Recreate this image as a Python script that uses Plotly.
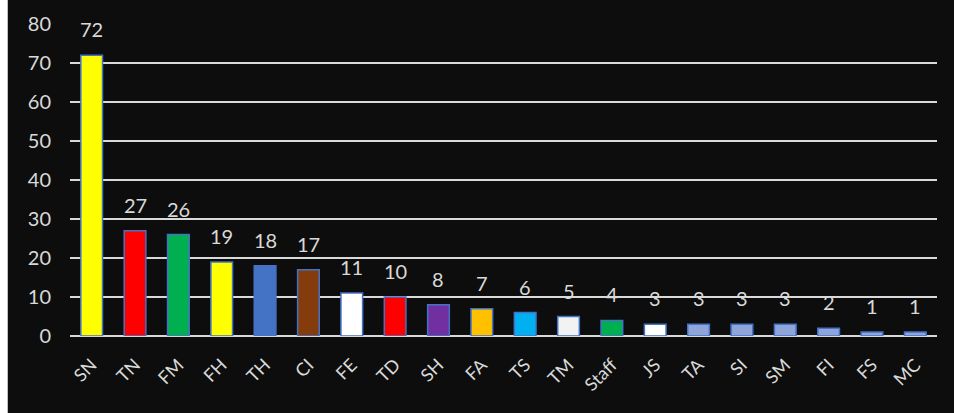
import plotly.graph_objects as go

categories = ["SN", "TN", "FM", "FH", "TH", "CI", "FE", "TD", "SH", "FA",
              "TS", "TM", "Staff", "JS", "TA", "SI", "SM", "FI", "FS", "MC"]
values = [72, 27, 26, 19, 18, 17, 11, 10, 8, 7, 6, 5, 4, 3, 3, 3, 3, 2, 1, 1]
bar_colors = ["#FFFF00", "#FF0000", "#00B050", "#FFFF00", "#4472C4", "#843C0C",
              "#FFFFFF", "#FF0000", "#7030A0", "#FFC000", "#00B0F0", "#F2F2F2",
              "#00B050", "#FFFFFF", "#8FA5DA", "#8FA5DA", "#8FA5DA", "#8FA5DA",
              "#8FA5DA", "#8FA5DA"]
y_ticks = [0, 10, 20, 30, 40, 50, 60, 70, 80]

FONT = "Lato, 'Open Sans', sans-serif"
TXT = "#D9D9D9"

fig = go.Figure()
fig.add_trace(go.Bar(
    x=categories, y=values,
    marker=dict(color=bar_colors, line=dict(color="#4472C4", width=1.5)),
    width=0.5,
    hoverinfo="x+y",
))

for c, v in zip(categories, values):
    fig.add_annotation(x=c, y=v, text=str(v), showarrow=False,
                       yanchor="bottom", yshift=12,
                       font=dict(family=FONT, size=20, color=TXT))

L, R, T, B = 70, 17, 24, 77
W, H = 954, 413
pw, ph = W - L - R, H - T - B
STRIP = 7
# white page strip along the left edge (drawn in the figure's margin)
fig.add_shape(type="rect", xref="paper", yref="paper",
              x0=-L / pw, x1=(STRIP - L) / pw, y0=-B / ph, y1=1 + T / ph,
              fillcolor="#FFFFFF", line=dict(width=0), layer="above")
fig.add_shape(type="line", xref="paper", yref="paper",
              x0=(STRIP + 0.5 - L) / pw, x1=(STRIP + 0.5 - L) / pw,
              y0=-B / ph, y1=1 + T / ph,
              line=dict(color="#BFBFBF", width=1), layer="above")

fig.update_layout(
    width=W, height=H,
    margin=dict(l=L, r=R, t=T, b=B),
    paper_bgcolor="#0D0D0D", plot_bgcolor="#0D0D0D",
    showlegend=False, bargap=0.5,
    font=dict(family=FONT, color=TXT),
    xaxis=dict(tickangle=-45, tickfont=dict(size=18, color=TXT, family=FONT),
               showgrid=False, showline=False, ticks="", fixedrange=True,
               ticklabelstandoff=14),
    yaxis=dict(range=[0, 80], tickvals=y_ticks, showgrid=True,
               gridcolor="#D9D9D9", gridwidth=1.6,
               zeroline=True, zerolinecolor="#D9D9D9", zerolinewidth=2,
               tickfont=dict(size=20, color=TXT, family=FONT),
               ticks="", ticklen=0, fixedrange=True, ticklabelstandoff=18),
)

fig.write_html("out.html", config={"displayModeBar": False},
               post_script=("document.body.style.margin='0';"
                            "document.body.style.overflow='hidden';"))
